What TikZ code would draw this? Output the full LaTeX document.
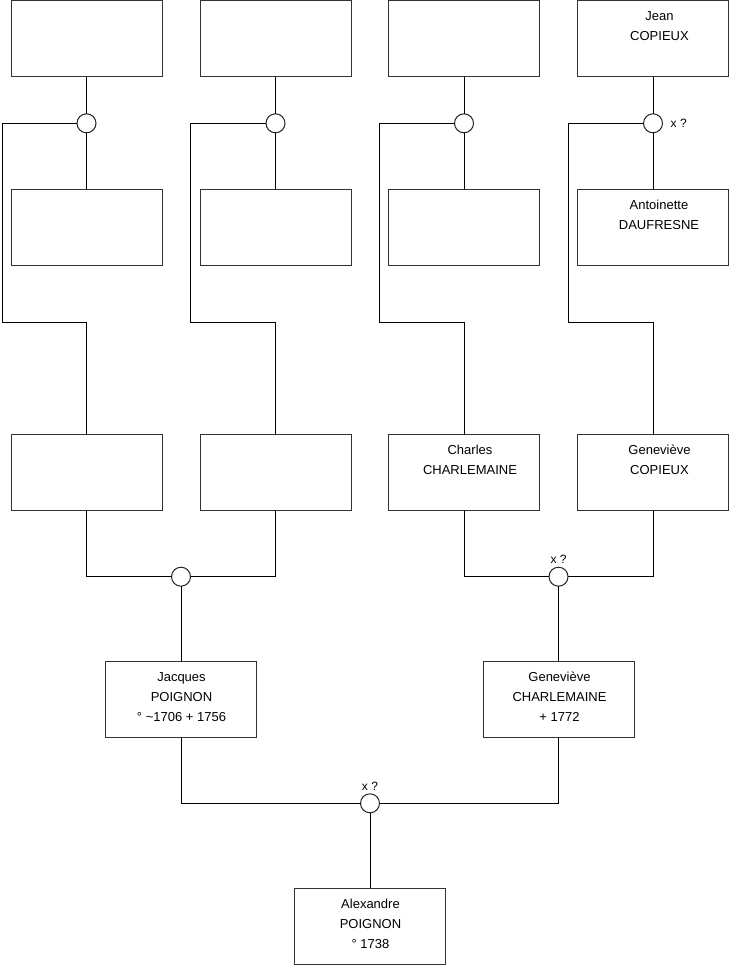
\documentclass[tikz,border=0pt]{standalone}
\usepackage{fontspec}
\setmainfont{Liberation Sans}
\usetikzlibrary{calc}
\tikzset{
  person/.style={draw=black!80, line width=1pt, fill=white, minimum width=151pt, minimum height=76pt, inner sep=0pt, outer sep=0pt},
  union/.style={draw=black!85, line width=1pt, fill=white, circle, minimum size=19pt, inner sep=0pt, outer sep=0pt},
  lbl/.style={anchor=north, inner sep=0pt, align=center, font=\fontsize{13}{20}\selectfont},
  marrlbl/.style={inner sep=0pt, font=\fontsize{12}{14}\selectfont},
  link/.style={line width=1pt, draw=black}
}
\begin{document}
\begin{tikzpicture}[x=1pt, y=-1pt]
\useasboundingbox (0,0) rectangle (740,975);
% row A
\node[person] (a1) at (86.5,38.5) {};
\node[person] (a2) at (275.5,38.5) {};
\node[person] (a3) at (464,38.5) {};
\node[person] (a4) at (653,38.5) {};
% row B
\node[person] (b1) at (86.5,227.3) {};
\node[person] (b2) at (275.5,227.3) {};
\node[person] (b3) at (464,227.3) {};
\node[person] (b4) at (653,227.3) {};
% row C
\node[person] (c1) at (86.5,472.7) {};
\node[person] (c2) at (275.5,472.7) {};
\node[person] (c3) at (464,472.7) {};
\node[person] (c4) at (653,472.7) {};
% row D
\node[person] (d1) at (181,699.7) {};
\node[person] (d2) at (558.5,699.7) {};
% row E
\node[person] (e1) at (370,926) {};
% unions
\node[union] (m1) at (86.5,123.3) {};
\node[union] (m2) at (275.5,123.3) {};
\node[union] (m3) at (464,123.3) {};
\node[union] (m4) at (653,123.3) {};
\node[union] (m5) at (181,576.7) {};
\node[union] (m6) at (558.5,576.7) {};
\node[union] (m7) at (370,803.3) {};
% corner coordinates
\coordinate (k1) at (2,322);
\coordinate (k2) at (190.5,322);
\coordinate (k3) at (379.3,322);
\coordinate (k4) at (568.5,322);
% connectors
\foreach \i in {1,2,3,4}{
  \draw[link] (a\i.south) -- (m\i.north);
  \draw[link] (m\i.south) -- (b\i.north);
  \draw[link] (m\i.west) -| (k\i) -| (c\i.north);
}
\draw[link] (c1.south) |- (m5.west);
\draw[link] (c2.south) |- (m5.east);
\draw[link] (m5.south) -- (d1.north);
\draw[link] (c3.south) |- (m6.west);
\draw[link] (c4.south) |- (m6.east);
\draw[link] (m6.south) -- (d2.north);
\draw[link] (d1.south) |- (m7.west);
\draw[link] (d2.south) |- (m7.east);
\draw[link] (m7.south) -- (e1.north);
% labels
\node[lbl] (ta4) at ($(a4.north)+(6.5,7)$) {\rule{0pt}{13pt}Jean\\COPIEUX};
\node[lbl] (tb4) at ($(b4.north)+(6,7)$) {\rule{0pt}{13pt}Antoinette\\DAUFRESNE};
\node[lbl] (tc3) at ($(c3.north)+(6,7)$) {\rule{0pt}{13pt}Charles\\CHARLEMAINE};
\node[lbl] (tc4) at ($(c4.north)+(6.5,7)$) {\rule{0pt}{13pt}Geneviève\\COPIEUX};
\node[lbl] (td1) at ($(d1.north)+(0.5,7)$) {\rule{0pt}{13pt}Jacques\\POIGNON\\° \textasciitilde1706 + 1756};
\node[lbl] (td2) at ($(d2.north)+(1,7)$) {\rule{0pt}{13pt}Geneviève\\CHARLEMAINE\\+ 1772};
\node[lbl] (te1) at ($(e1.north)+(0.5,7)$) {\rule{0pt}{13pt}Alexandre\\POIGNON\\° 1738};
% marriage marks
\node[marrlbl, anchor=west] (x4) at ($(m4.east)+(8,0)$) {x ?};
\node[marrlbl, anchor=base] (x6) at ($(m6.north)+(0,-3.5)$) {x ?};
\node[marrlbl, anchor=base] (x7) at ($(m7.north)+(0,-3.5)$) {x ?};
\end{tikzpicture}
\end{document}
